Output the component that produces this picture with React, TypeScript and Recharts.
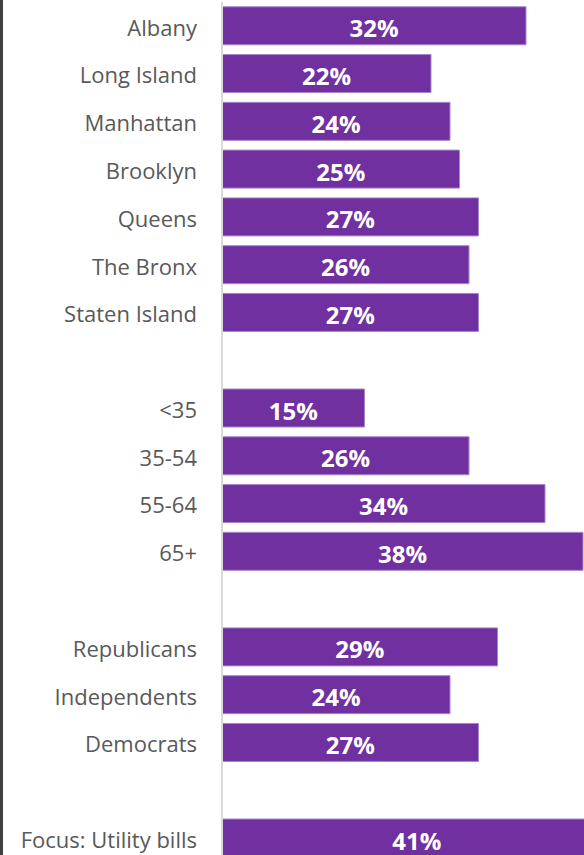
import React from 'react';
import { BarChart, Bar, XAxis, YAxis, LabelList } from 'recharts';

// blank names are spacer rows between the groups
const categories = [
  'Albany', 'Long Island', 'Manhattan', 'Brooklyn', 'Queens', 'The Bronx', 'Staten Island',
  ' ',
  '<35', '35-54', '55-64', '65+',
  '  ',
  'Republicans', 'Independents', 'Democrats',
  '   ',
  'Focus: Utility bills',
];
const shares: (number | null)[] = [
  32, 22, 24, 25, 27, 26, 27,
  null,
  15, 26, 34, 38,
  null,
  29, 24, 27,
  null,
  41,
];

const data = categories.map((name, i) => ({ name, value: shares[i] }));

const PURPLE = '#7030A0';
const FONT = '"Open Sans", "Noto Sans", sans-serif';

export default function App() {
  return (
    <div style={{ position: 'absolute', top: 0, left: 0, width: 584, height: 855, overflow: 'hidden', background: '#fff' }}>
      <div style={{ position: 'absolute', left: 0, top: 0, width: 3, height: 855, background: '#404040', zIndex: 2 }} />
      <BarChart
        width={697}
        height={870}
        data={data}
        layout="vertical"
        margin={{ top: 2, right: 0, bottom: 8, left: 0 }}
        barCategoryGap="10%"
        style={{ fontFamily: FONT }}
      >
        <XAxis type="number" domain={[0, 50]} hide />
        <YAxis
          type="category"
          dataKey="name"
          width={222}
          tickLine={false}
          tickSize={23}
          tickMargin={2}
          axisLine={{ stroke: '#d9d9d9', strokeWidth: 2 }}
          tick={{ fontSize: 22, fill: '#595959', fontFamily: FONT, dy: 2 }}
          interval={0}
        />
        <Bar dataKey="value" fill={PURPLE} stroke="#a985cc" strokeWidth={1} isAnimationActive={false}>
          <LabelList
            dataKey="value"
            position="center"
            offset={0}
            formatter={(v: any) => (v == null ? '' : `${v}%`)}
            style={{ fill: '#ffffff', fontSize: 24, fontWeight: 700, fontFamily: FONT, transform: 'translateY(3px)' }}
          />
        </Bar>
      </BarChart>
    </div>
  );
}
